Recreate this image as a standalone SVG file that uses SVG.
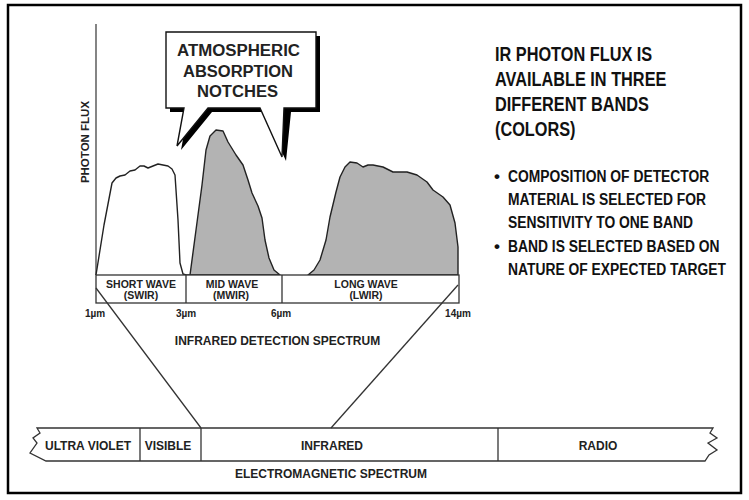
<svg xmlns="http://www.w3.org/2000/svg" width="749" height="500" viewBox="0 0 749 500">
<style>
.t{font-family:"Liberation Sans",Arial,sans-serif;font-weight:bold;fill:#222;text-anchor:middle}
.n{font-family:"Liberation Sans",Arial,sans-serif;font-weight:bold;fill:#111}
.ln{fill:none;stroke:#333;stroke-width:1.3}
.curve{stroke:#222;stroke-width:1.4;stroke-linejoin:round}
</style>
<rect x="0" y="0" width="749" height="500" fill="#fff"/>
<rect x="8" y="5" width="733" height="488" fill="none" stroke="#000" stroke-width="2.5"/>

<g id="axis">
<line x1="96" y1="24" x2="96" y2="275" stroke="#666" stroke-width="1.6"/>
<text class="t" font-size="11.5" transform="translate(89,142) rotate(-90)">PHOTON FLUX</text>
</g>

<g id="curves">
<path class="curve" fill="#fff" d="M96,275 L104,225 L112,183 L116,178 L120,176 L125,175 L130,171 L135,170 L140,166 L144,166 L148,168 L153,166 L158,164 L163,165 L168,166 L172,169 L175,175 L178,220 L180,263 L183,274 L186,275"/>
<path class="curve" fill="#b3b3b3" d="M186,275 L190,275 L196,230 L202,185 L206,150 L210,136 L216,130 L223,131 L228,142 L236,155 L243,165 L248,180 L252,193 L258,206 L262,218 L265,240 L269,258 L274,270 L280,275 Z"/>
<path class="curve" fill="#b3b3b3" d="M308,275 L314,270 L320,260 L326,240 L330,217 L336,192 L340,177 L345,167 L350,162 L357,163 L363,167 L368,165 L373,165 L383,167 L393,172 L407,172 L417,175 L427,182 L433,190 L443,197 L450,205 L455,223 L458,247 L458,275 Z"/>
</g>

<g id="callout">
<path fill="#000" d="M170,36 H320 V112 H291 L286,161 L264,112 H212 L181,150 L188,112 H170 Z"/>
<path fill="#fff" stroke="#111" stroke-width="1.4" stroke-linejoin="miter" d="M166,32 H316 V108 H284 L282,157 L260,108 H208 L177,146 L184,108 H166 Z"/>
<text class="t" font-size="16" x="238.5" y="56" fill="#111" textLength="123" lengthAdjust="spacingAndGlyphs">ATMOSPHERIC</text>
<text class="t" font-size="16" x="238" y="77" fill="#111" textLength="110" lengthAdjust="spacingAndGlyphs">ABSORPTION</text>
<text class="t" font-size="16" x="237.5" y="97" fill="#111" textLength="81" lengthAdjust="spacingAndGlyphs">NOTCHES</text>
</g>

<g id="ir-bar">
<rect x="96" y="275" width="363" height="28" fill="#fff" stroke="#333" stroke-width="1.3"/>
<line class="ln" x1="186" y1="275" x2="186" y2="303"/>
<line class="ln" x1="282" y1="275" x2="282" y2="303"/>
<text class="t" font-size="10.5" x="141" y="288">SHORT WAVE</text>
<text class="t" font-size="10.5" x="141" y="299">(SWIR)</text>
<text class="t" font-size="10.5" x="232" y="288">MID WAVE</text>
<text class="t" font-size="10.5" x="231" y="299">(MWIR)</text>
<text class="t" font-size="10.5" x="366" y="288">LONG WAVE</text>
<text class="t" font-size="10.5" x="366" y="299">(LWIR)</text>
<text class="t" font-size="10" x="95" y="317">1µm</text>
<text class="t" font-size="10" x="186" y="317">3µm</text>
<text class="t" font-size="10" x="281" y="317">6µm</text>
<text class="t" font-size="10" x="458" y="317">14µm</text>
<text class="t" font-size="12" x="277.5" y="345">INFRARED DETECTION SPECTRUM</text>
</g>

<g id="connectors">
<line class="ln" x1="96" y1="288" x2="201" y2="428"/>
<line class="ln" x1="458" y1="285" x2="331" y2="428"/>
</g>

<g id="em-bar">
<path class="ln" fill="#fff" d="M37,428 H713 L710,433 L717,438 L708,443 L717,450 L709,455 L705,461 H46 L30,453 L37,443 L33,438 L40,433 Z"/>
<line class="ln" x1="140" y1="428" x2="140" y2="461"/>
<line class="ln" x1="201" y1="428" x2="201" y2="461"/>
<line class="ln" x1="498" y1="428" x2="498" y2="461"/>
<text class="t" font-size="12" x="88" y="450">ULTRA VIOLET</text>
<text class="t" font-size="12" x="168" y="450">VISIBLE</text>
<text class="t" font-size="12" x="332" y="450">INFRARED</text>
<text class="t" font-size="12" x="598" y="450">RADIO</text>
<text class="t" font-size="12" x="331" y="478">ELECTROMAGNETIC SPECTRUM</text>
</g>

<g id="notes">
<g transform="translate(495,0) scale(0.815,1)">
<text class="n" font-size="20" x="0" y="61">IR PHOTON FLUX IS</text>
<text class="n" font-size="20" x="0" y="86">AVAILABLE IN THREE</text>
<text class="n" font-size="20" x="0" y="111">DIFFERENT BANDS</text>
<text class="n" font-size="20" x="0" y="136">(COLORS)</text>
</g>
<text class="n" font-size="17" x="494" y="182">•</text>
<text class="n" font-size="17" x="494" y="252">•</text>
<g transform="translate(508,0) scale(0.815,1)">
<text class="n" font-size="17" x="0" y="182">COMPOSITION OF DETECTOR</text>
<text class="n" font-size="17" x="0" y="205">MATERIAL IS SELECTED FOR</text>
<text class="n" font-size="17" x="0" y="228">SENSITIVITY TO ONE BAND</text>
<text class="n" font-size="17" x="0" y="252">BAND IS SELECTED BASED ON</text>
<text class="n" font-size="17" x="0" y="275">NATURE OF EXPECTED TARGET</text>
</g>
</g>
</svg>
